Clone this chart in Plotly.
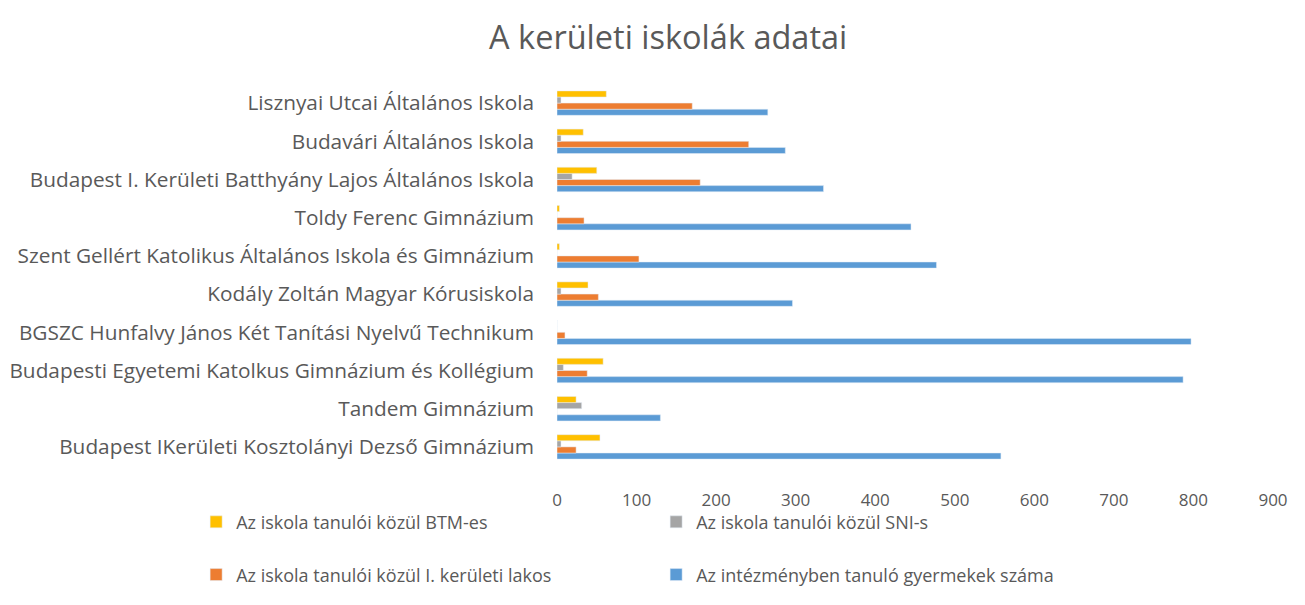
import plotly.graph_objects as go

# categories listed bottom-to-top
categories = [
    "Budapest IKerületi Kosztolányi Dezső Gimnázium",
    "Tandem Gimnázium",
    "Budapesti Egyetemi Katolkus Gimnázium és Kollégium",
    "BGSZC Hunfalvy János Két Tanítási Nyelvű Technikum",
    "Kodály Zoltán Magyar Kórusiskola",
    "Szent Gellért Katolikus Általános Iskola és Gimnázium",
    "Toldy Ferenc Gimnázium",
    "Budapest I. Kerületi Batthyány Lajos Általános Iskola",
    "Budavári Általános Iskola",
    "Lisznyai Utcai Általános Iskola",
]
gyermekek = [558, 130, 787, 797, 296, 477, 445, 335, 287, 265]
keruleti = [24, 0, 38, 10, 52, 103, 34, 180, 241, 170]
sni = [5, 31, 8, 0, 5, 0, 0, 19, 5, 5]
btm = [54, 24, 58, 0, 39, 3, 3, 50, 33, 62]

series_names = [
    "Az iskola tanulói közül BTM-es",
    "Az iskola tanulói közül SNI-s",
    "Az iskola tanulói közül I. kerületi lakos",
    "Az intézményben tanuló gyermekek száma",
]
x_ticks = [0, 100, 200, 300, 400, 500, 600, 700, 800, 900]

FONT = "Open Sans"
TXT = "#595959"

fig = go.Figure()
# trace order: first trace is drawn at bottom of each group
fig.add_trace(go.Bar(y=categories, x=gyermekek, name=series_names[3], orientation="h",
                     marker_color="#5B9BD5", legend="legend2", legendrank=2))
fig.add_trace(go.Bar(y=categories, x=keruleti, name=series_names[2], orientation="h",
                     marker_color="#ED7D31", legend="legend2", legendrank=1))
fig.add_trace(go.Bar(y=categories, x=sni, name=series_names[1], orientation="h",
                     marker_color="#A5A5A5", legend="legend", legendrank=2))
fig.add_trace(go.Bar(y=categories, x=btm, name=series_names[0], orientation="h",
                     marker_color="#FFC000", legend="legend", legendrank=1))

legend_common = dict(
    orientation="h", traceorder="normal", entrywidth=415, entrywidthmode="pixels",
    font=dict(family=FONT, size=18, color=TXT), bgcolor="rgba(0,0,0,0)",
    xanchor="left", yanchor="middle", itemwidth=30,
)

fig.update_layout(
    width=1297, height=597,
    paper_bgcolor="white", plot_bgcolor="white",
    margin=dict(l=549, r=32, t=76, b=139),
    barmode="group", bargap=0.36, bargroupgap=0.0,
    title=dict(text="A kerületi iskolák adatai", x=0.509, xanchor="center",
               y=1 - 30 / 597, yanchor="middle", yref="container",
               font=dict(family=FONT, size=32.5, color=TXT)),
    xaxis=dict(range=[0, 900], tickvals=x_ticks, showgrid=False, zeroline=False,
               showline=False, ticks="", ticklabelstandoff=22, automargin=False,
               tickfont=dict(family=FONT, size=17, color=TXT)),
    yaxis=dict(showgrid=False, zeroline=False, showline=False, ticks="",
               ticklabelstandoff=22, categoryorder="array", categoryarray=categories,
               automargin=False,
               tickfont=dict(family=FONT, size=20.8, color=TXT)),
    legend=dict(x=-0.504, y=-0.147, **legend_common),
    legend2=dict(x=-0.504, y=-0.285, **legend_common),
)

fig.write_html("out.html")
